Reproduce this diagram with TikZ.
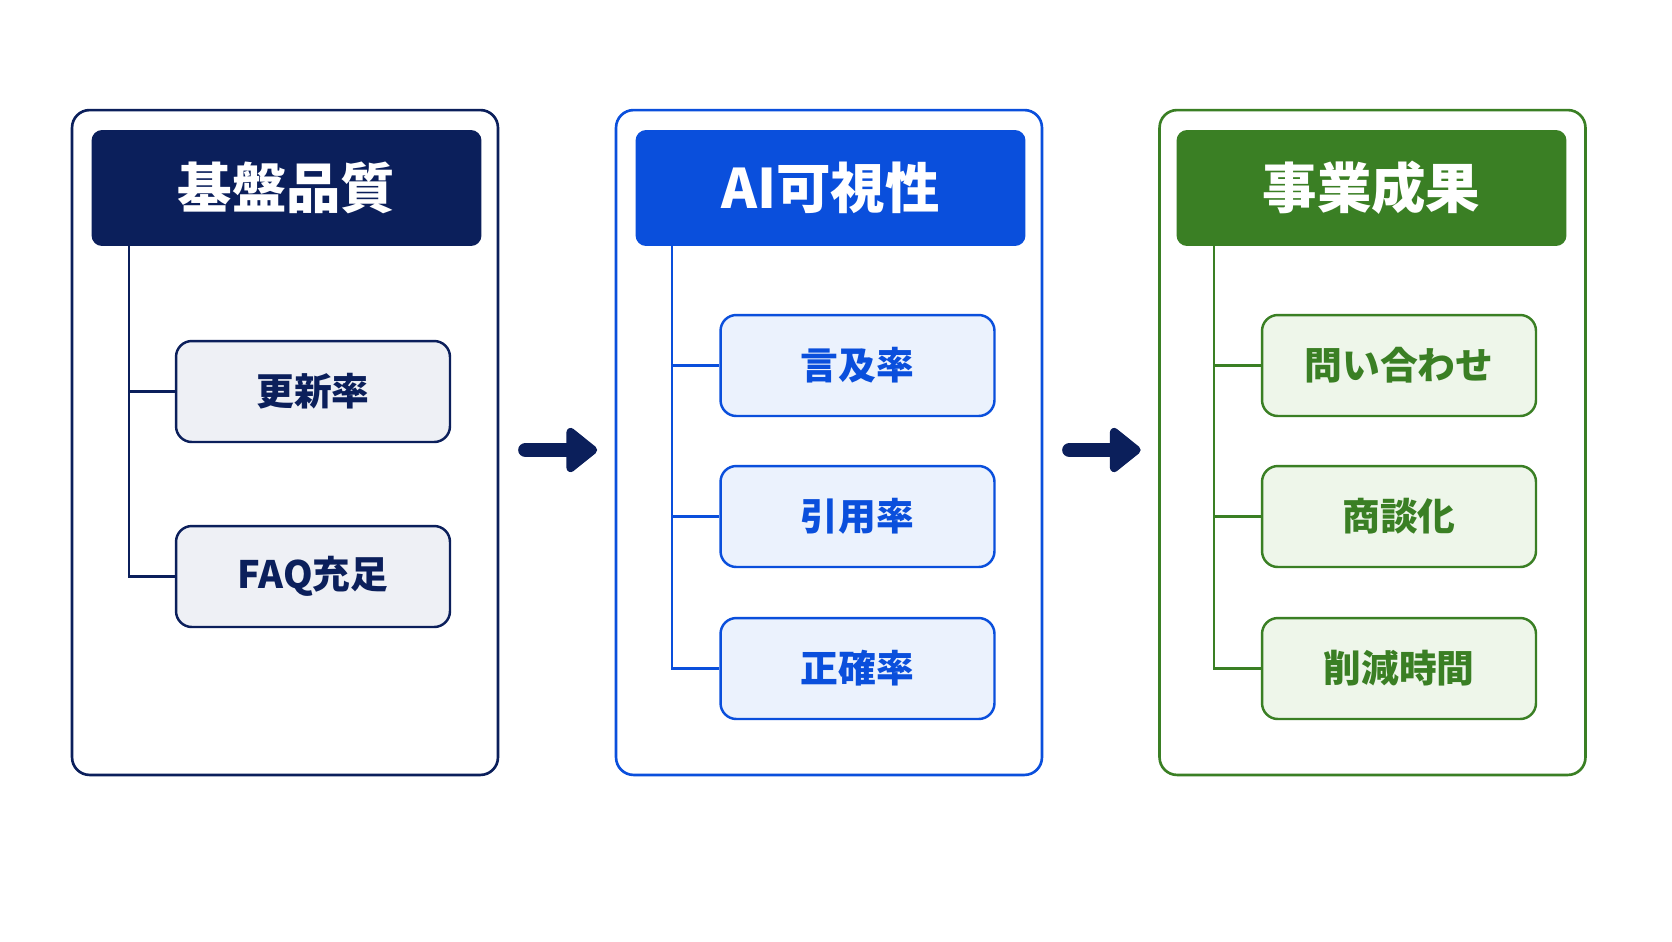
\documentclass[tikz,border=0pt]{standalone}
\usepackage{fontspec}
\setmainfont{Noto Sans CJK JP}
\usetikzlibrary{arrows.meta}
\definecolor{navy}{HTML}{0B1F5B}
\definecolor{aiblue}{HTML}{0A4FDC}
\definecolor{biz}{HTML}{3A7F24}
\definecolor{navyfill}{HTML}{EEF0F5}
\definecolor{bluefill}{HTML}{EBF2FD}
\definecolor{greenfill}{HTML}{EEF6EA}
\tikzstyle{panel}=[rectangle,rounded corners=10pt,line width=1.5pt,fill=white,minimum width=8.52cm,minimum height=13.3cm]
\tikzstyle{head}=[rectangle,rounded corners=6pt,minimum width=7.8cm,minimum height=2.32cm,text=white,font=\fontsize{31}{36}\selectfont\bfseries]
\tikzstyle{item}=[rectangle,rounded corners=9pt,line width=1.4pt,minimum width=5.48cm,minimum height=2.02cm,font=\fontsize{21.5}{26}\selectfont\bfseries]
\tikzstyle{tree}=[line width=1.4pt]
\tikzstyle{flow}=[-{Triangle[length=19pt,width=29pt,round]},line width=8.5pt,line cap=round,navy,shorten <=15pt,shorten >=10pt]

\begin{document}
\begin{tikzpicture}[x=0.02cm,y=-0.02cm]

  \useasboundingbox[fill=white] (0,0) rectangle (1672,941);

  \node[panel,draw=navy] (P1) at (285,442.5) {};
  \node[panel,draw=aiblue] (P2) at (829,442.5) {};
  \node[panel,draw=biz] (P3) at (1372.5,442.5) {};

  \node[head,fill=navy] (H1) at (286.5,188) {基盤品質};
  \node[head,fill=aiblue] (H2) at (830.5,188) {AI可視性};
  \node[head,fill=biz] (H3) at (1371.5,188) {事業成果};

  \node[item,draw=navy,fill=navyfill,text=navy] (A1) at (313,391.5) {更新率};
  \node[item,draw=navy,fill=navyfill,text=navy] (A2) at (313,576.5) {FAQ充足};

  \node[item,draw=aiblue,fill=bluefill,text=aiblue] (B1) at (857.5,365.5) {言及率};
  \node[item,draw=aiblue,fill=bluefill,text=aiblue] (B2) at (857.5,516.5) {引用率};
  \node[item,draw=aiblue,fill=bluefill,text=aiblue] (B3) at (857.5,668.5) {正確率};

  \node[item,draw=biz,fill=greenfill,text=biz] (C1) at (1399,365.5) {問い合わせ};
  \node[item,draw=biz,fill=greenfill,text=biz] (C2) at (1399,516.5) {商談化};
  \node[item,draw=biz,fill=greenfill,text=biz] (C3) at (1399,668.5) {削減時間};

  \coordinate (T1) at (129,246);
  \coordinate (T2) at (672,246);
  \coordinate (T3) at (1214,246);

  \draw[tree,navy] (T1) |- (A1.west); \draw[tree,navy] (T1) |- (A2.west);
  \draw[tree,aiblue] (T2) |- (B1.west); \draw[tree,aiblue] (T2) |- (B2.west); \draw[tree,aiblue] (T2) |- (B3.west);
  \draw[tree,biz] (T3) |- (C1.west); \draw[tree,biz] (T3) |- (C2.west); \draw[tree,biz] (T3) |- (C3.west);

  \draw[flow] (P1.east |- 0,450) -- (P2.west |- 0,450);
  \draw[flow] (P2.east |- 0,450) -- (P3.west |- 0,450);

\end{tikzpicture}
\end{document}
